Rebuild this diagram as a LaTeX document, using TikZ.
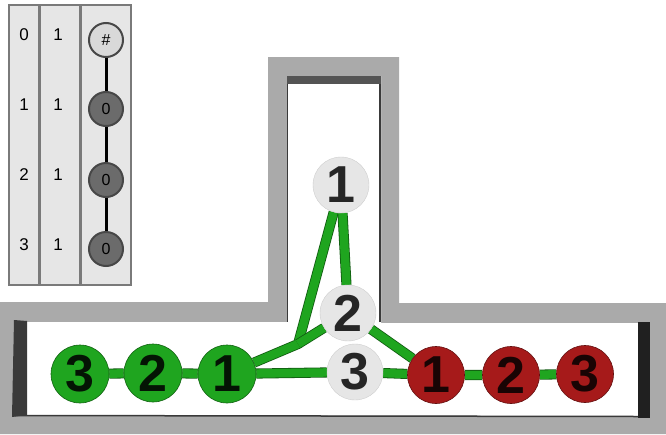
\documentclass[tikz,border=0pt]{standalone}
\usepackage{fontspec}
\setmainfont{Liberation Sans}
\newcommand\bignum{\bfseries\fontsize{52}{52}\selectfont}
\newcommand\legnum{\fontsize{17}{17}\selectfont}
\newcommand\cellnum{\fontsize{16}{16}\selectfont}
\definecolor{wallgray}{HTML}{AAAAAA}
\definecolor{walldark}{HTML}{3A3A3A}
\definecolor{wallblack}{HTML}{202020}
\definecolor{agentgreen}{HTML}{1FA51F}
\definecolor{agentred}{HTML}{A61A1A}
\definecolor{cellwhite}{HTML}{E6E6E6}
\definecolor{panelgray}{HTML}{E6E6E6}
\definecolor{paneledge}{HTML}{7A7A7A}
\pgfdeclarelayer{walls}
\pgfdeclarelayer{paths}
\pgfsetlayers{walls,paths,main}
\tikzstyle{goalnode}=[circle,%
                      fill=agentgreen,%
                      draw=agentgreen!60!black,%
                      line width=0.6pt,%
                      minimum size=58pt,%
                      inner sep=0pt,%
                      text=agentgreen!12!black,%
                      font=\bignum]
\tikzstyle{startnode}=[circle, fill=agentred, draw=agentred!60!black, line width=0.6pt, minimum size=57pt, inner sep=0pt, text=agentred!15!black, font=\bignum]
\tikzstyle{freenode}=[circle, fill=cellwhite, draw=cellwhite!90!black, line width=0.4pt, minimum size=56pt, inner sep=0pt, text=black!85, font=\bignum]
\tikzstyle{trail}=[draw=agentgreen!55!black, line width=0.8pt, double=agentgreen, double distance=8.5pt, line join=round]
\tikzstyle{legcell}=[circle, draw=black!72, line width=2pt, minimum size=34pt, inner sep=0pt, font=\cellnum]
\tikzstyle{legtext}=[font=\legnum, inner sep=0pt]

\begin{document}
\begin{tikzpicture}[x=1pt,y=-1pt]
  \useasboundingbox (0,0) rectangle (666,434);
  % walls
  \begin{pgfonlayer}{walls}
    \fill[wallgray] (0,302) -- (268,302) -- (268,57) -- (399,57) -- (399,303) -- (666,303) -- (666,434) -- (0,434) -- cycle;
    \fill[white] (27,322) -- (287,322) -- (287,76) -- (381,76) -- (381,323) -- (638,323) -- (638,416) -- (27,415) -- cycle;
    \fill[black!67] (287,76) rectangle (381,84);
    \fill[walldark] (14,320) -- (27,321) -- (27,415) -- (12,417) -- cycle;
    \fill[wallblack] (638,322) -- (650,322) -- (650,418) -- (638,418) -- cycle;
    \draw[walldark, line width=1.5pt] (13,415.5) -- (638,416.5);
    \draw[walldark, line width=1pt] (287.5,84) -- (287.5,322);
    \draw[walldark, line width=2pt] (380,84) -- (380,322);
  \end{pgfonlayer}
  % cells
  \node[goalnode] (g3) at (80,374) {3};
  \node[goalnode] (g2) at (153,373) {2};
  \node[goalnode] (g1) at (227,374) {1};
  \node[freenode] (w1) at (341,185) {1};
  \node[freenode] (w2) at (348,313) {2};
  \node[freenode] (w3) at (355,372) {3};
  \node[startnode] (r1) at (436,375) {1};
  \node[startnode] (r2) at (511,375) {2};
  \node[startnode] (r3) at (585,374) {3};
  % paths
  \begin{pgfonlayer}{paths}
    \coordinate (bend) at (298,344);
    \draw[trail] (g3) -- (g2) -- (g1);
    \draw[trail] (g1) -- (bend) -- (w1);
    \draw[trail] (bend) -- (w2);
    \draw[trail] (w1) -- (w2);
    \draw[trail] (g1) -- (w3);
    \draw[trail] (w2) -- (r1);
    \draw[trail] (w3) -- (r1) -- (r2) -- (r3);
  \end{pgfonlayer}
  % legend
  \draw[fill=panelgray, draw=paneledge, line width=2pt] (9,5) rectangle (131,285);
  \draw[paneledge, line width=3pt] (39,5) -- (39,285);
  \draw[paneledge, line width=3pt] (80,5) -- (80,285);
  \node[legcell, fill=black!15] (c0) at (106,40) {\#};
  \node[legcell, fill=black!58] (c1) at (106,109) {0};
  \node[legcell, fill=black!58] (c2) at (106,180) {0};
  \node[legcell, fill=black!58] (c3) at (106,249) {0};
  \draw[black, line width=3pt] (c0) -- (c1) -- (c2) -- (c3);
  \foreach \i/\y in {0/35,1/105,2/175,3/245} {
    \node[legtext] (n\i) at (24,\y) {\i};
    \node[legtext] (m\i) at (58,\y) {1};
  }
\end{tikzpicture}
\end{document}
